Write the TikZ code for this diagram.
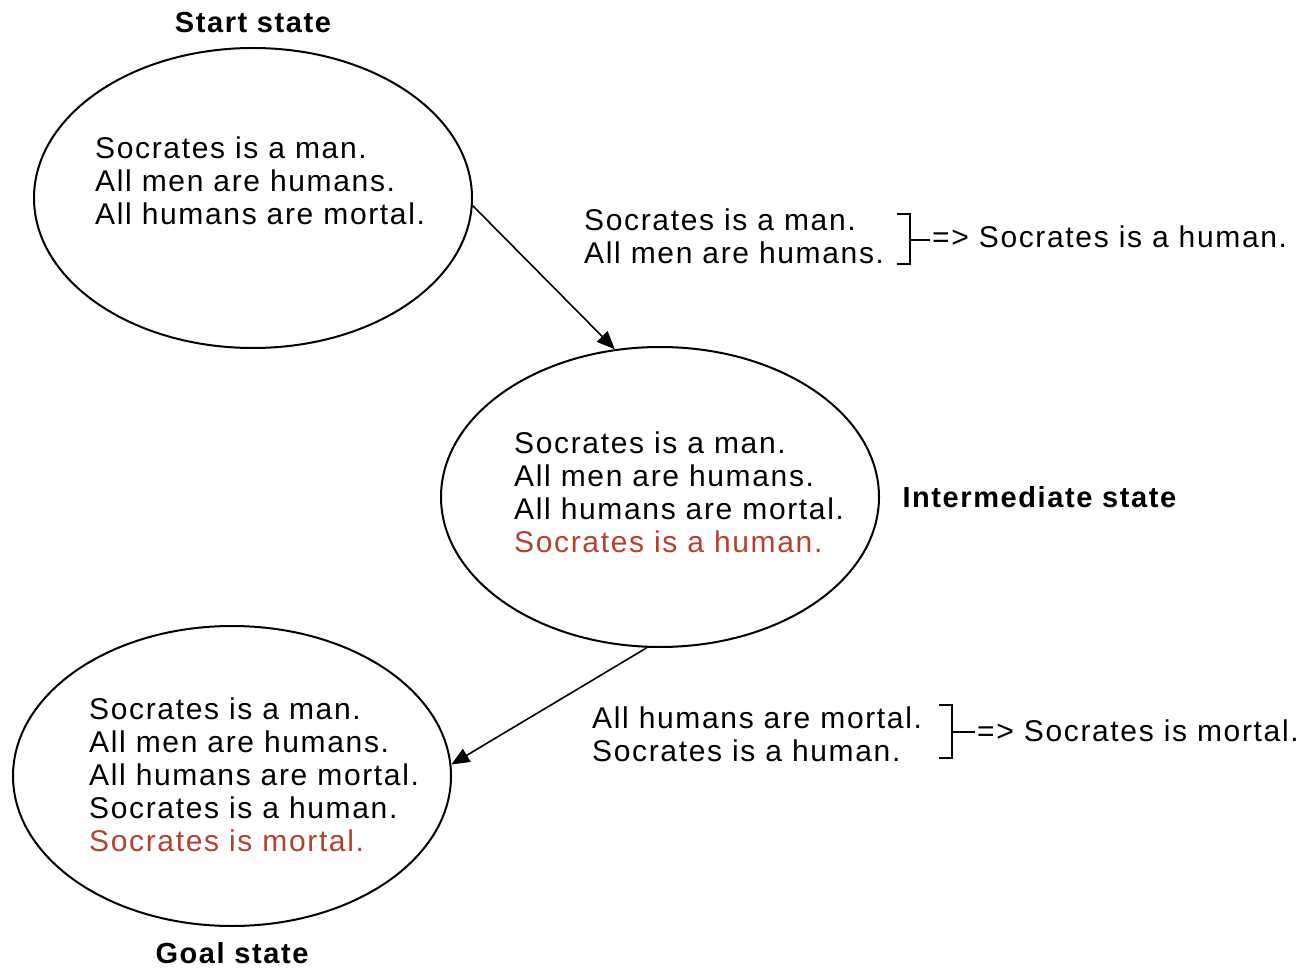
\documentclass[tikz,border=0pt]{standalone}
\usepackage{fontspec}
\setmainfont{Liberation Sans}[LetterSpace=5.5]
\usepackage{tikz}
\usetikzlibrary{positioning,arrows.meta,shapes.geometric}
\definecolor{newFact}{HTML}{B5412C}

\begin{document}
\begin{tikzpicture}[x=1pt, y=-1pt, every node/.style={font=\fontsize{30}{33}\selectfont},
  state/.style={draw, ellipse, line width=2pt, minimum width=438pt, minimum height=300pt, inner sep=0pt},
  facts/.style={align=left, inner sep=0pt, anchor=west},
  lbl/.style={font=\fontsize{29}{33}\selectfont\bfseries},
  arr/.style={-{Triangle[length=18pt,width=15pt]}, line width=1.6pt},
  brk/.style={line width=1.6pt}]
\useasboundingbox (0,0) rectangle (1299,968);
% the three states
\node[state] (start) at (253,198) {};
\node[state] (mid) at (660,497) {};
\node[state] (goal) at (232,776) {};
\node[lbl, above=11pt of start] (startLbl) {Start state};
\node[lbl, right=19pt of mid] (midLbl) {Intermediate state};
\node[lbl, below=12pt of goal] (goalLbl) {Goal state};
\node[facts] (startFacts) at (95,181) {Socrates is a man.\\All men are humans.\\All humans are mortal.};
\node[facts] (midFacts) at (514,492) {Socrates is a man.\\All men are humans.\\All humans are mortal.\\\textcolor{newFact}{Socrates is a human.}};
\node[facts] (goalFacts) at (89,775) {Socrates is a man.\\All men are humans.\\All humans are mortal.\\Socrates is a human.\\\textcolor{newFact}{Socrates is mortal.}};
\draw[arr] (start.-2) -- (mid.107);
\draw[arr] (mid.-95) -- (goal.3);
% inference steps
\node[facts] (rule1) at (584,236) {Socrates is a man.\\All men are humans.};
\node[anchor=west, inner sep=2pt] (res1) at (930,237) {=> Socrates is a human.};
\coordinate (br1) at (910,240);
\draw[brk] (br1) ++(-13,-26) -- ++(13,0) -- ++(0,50) -- ++(-13,0);
\draw[brk] (br1) -- (br1 -| res1.west);
\node[facts] (rule2) at (592,734) {All humans are mortal.\\Socrates is a human.};
\node[anchor=west, inner sep=2pt] (res2) at (975,731) {=> Socrates is mortal.};
\coordinate (br2) at (952,732);
\draw[brk] (br2) ++(-13,-27) -- ++(13,0) -- ++(0,53) -- ++(-13,0);
\draw[brk] (br2) -- (br2 -| res2.west);
\end{tikzpicture}
\end{document}
